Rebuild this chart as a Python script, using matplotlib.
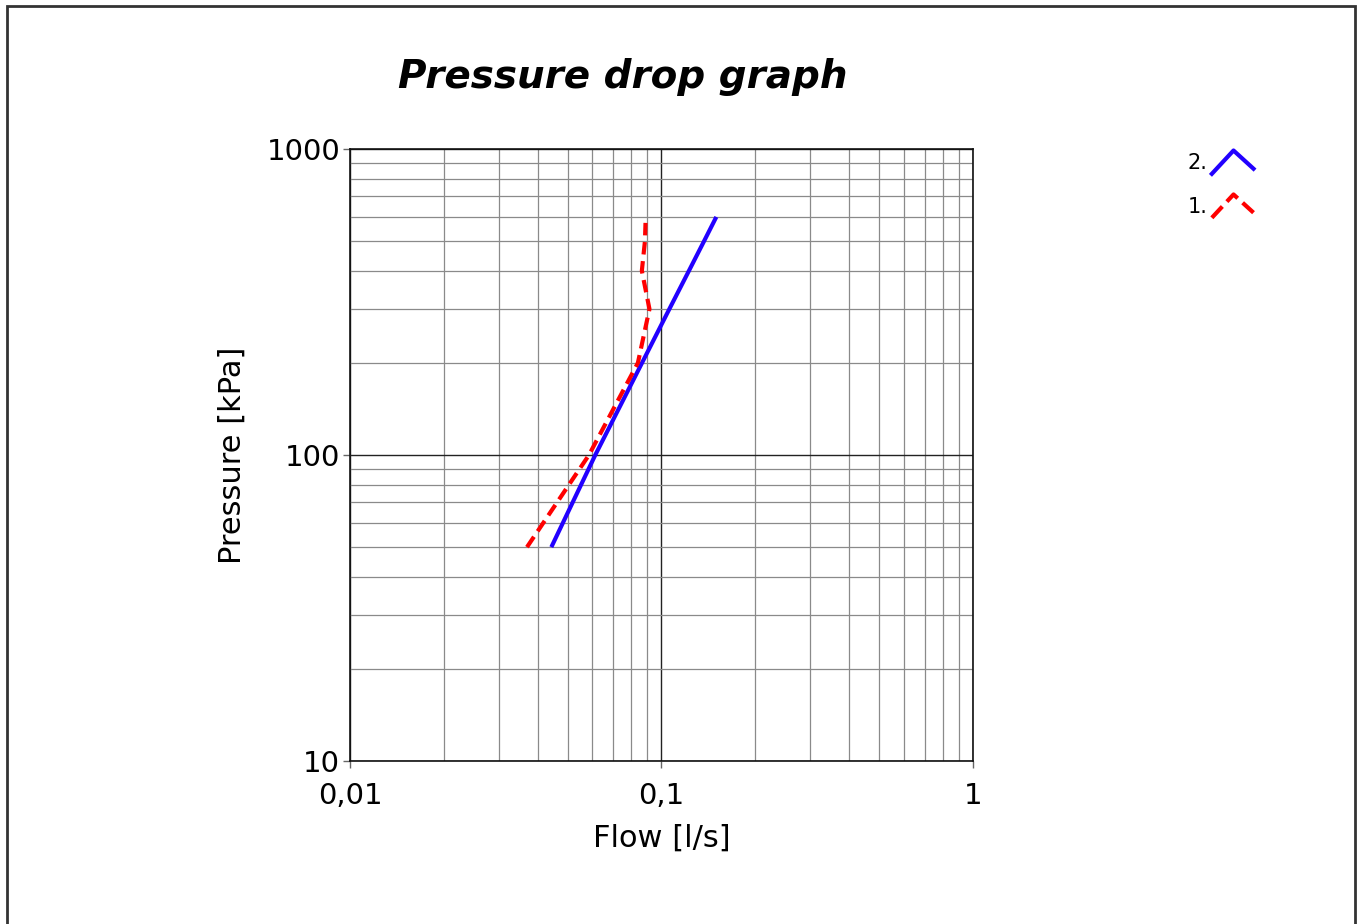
#!/usr/bin/python3

"""pressure drop graph, flow vs pressure on log-log axes"""

import matplotlib
matplotlib.use("Agg")
import matplotlib.pyplot as plt
import numpy as np
from matplotlib.lines import Line2D
from matplotlib.legend_handler import HandlerBase
from matplotlib.patches import Rectangle
from matplotlib.ticker import FixedLocator, FuncFormatter, LogLocator, NullFormatter

# curve 2 (blue, solid)
pressure_2 = [50, 100, 200, 300, 400, 500, 600]
flow_2 = [0.0443, 0.0613, 0.0866, 0.106, 0.1225, 0.137, 0.15]

# curve 1 (red, dashed)
pressure_1 = [50, 100, 200, 300, 400, 500, 600]
flow_1 = [0.037, 0.0585, 0.084, 0.0915, 0.0865, 0.0885, 0.089]

x_ticks = [0.01, 0.1, 1]
y_ticks = [10, 100, 1000]


class ChevronHandler(HandlerBase):
    """legend glyph drawn as a small ^ shape"""

    def create_artists(self, legend, orig_handle, xdescent, ydescent,
                       width, height, fontsize, trans):
        xs = np.array([0.0, 0.52, 1.0]) * width - xdescent
        ys = np.array([-0.35, 1.25, 0.0]) * height - ydescent
        line = Line2D(xs, ys, color=orig_handle.get_color(),
                      linestyle=orig_handle.get_linestyle(),
                      linewidth=orig_handle.get_linewidth())
        line.set_transform(trans)
        return [line]


def comma_fmt(v, pos):
    s = f"{v:g}"
    return s.replace(".", ",")


fig = plt.figure(figsize=(13.57, 9.24), dpi=100)
ax = fig.add_axes([0.2579, 0.1764, 0.4591, 0.6623])

l2, = ax.plot(flow_2, pressure_2, color="#2200ff", lw=3, solid_capstyle="butt")
l1, = ax.plot(flow_1, pressure_1, color="#ff0000", lw=3, linestyle=(0, (3, 1.6)))

ax.set_xscale("log")
ax.set_yscale("log")
ax.set_xlim(0.01, 1)
ax.set_ylim(10, 1000)

ax.xaxis.set_major_locator(FixedLocator(x_ticks))
ax.yaxis.set_major_locator(FixedLocator(y_ticks))
ax.xaxis.set_major_formatter(FuncFormatter(comma_fmt))
ax.yaxis.set_major_formatter(FuncFormatter(comma_fmt))
ax.xaxis.set_minor_locator(LogLocator(base=10, subs=np.arange(2, 10)))
ax.yaxis.set_minor_locator(LogLocator(base=10, subs=np.arange(2, 10)))
ax.xaxis.set_minor_formatter(NullFormatter())
ax.yaxis.set_minor_formatter(NullFormatter())

ax.grid(True, which="major", color="#222222", lw=1.0)
ax.grid(True, which="minor", color="#8a8a8a", lw=0.9)
ax.set_axisbelow(True)

ax.tick_params(which="major", length=5, width=1, color="#666666",
               labelsize=21, pad=2)
ax.tick_params(axis="x", which="major", pad=10)
ax.tick_params(which="minor", length=0)
for sp in ax.spines.values():
    sp.set_linewidth(1.2)
    sp.set_color("#111111")

ax.set_xlabel("Flow [l/s]", fontsize=22, labelpad=10)
ax.set_ylabel("Pressure [kPa]", fontsize=22, labelpad=14)

fig.text(0.459, 0.917, "Pressure drop graph", ha="center", va="center",
         fontsize=28, fontweight="bold", fontstyle="oblique")

leg = fig.legend([l2, l1], ["2.", "1."], handler_map={Line2D: ChevronHandler()},
                 loc="upper left", bbox_to_anchor=(0.8615, 0.855),
                 frameon=False, markerfirst=False, fontsize=15,
                 handlelength=2.0, handletextpad=0.2, labelspacing=1.15)

fig.add_artist(Rectangle((7 / 1357, -0.05), 1348 / 1357, 1.05 - 6 / 924,
                         transform=fig.transFigure, fill=False,
                         edgecolor="#333333", lw=2))

fig.savefig("out.png", dpi=100)
